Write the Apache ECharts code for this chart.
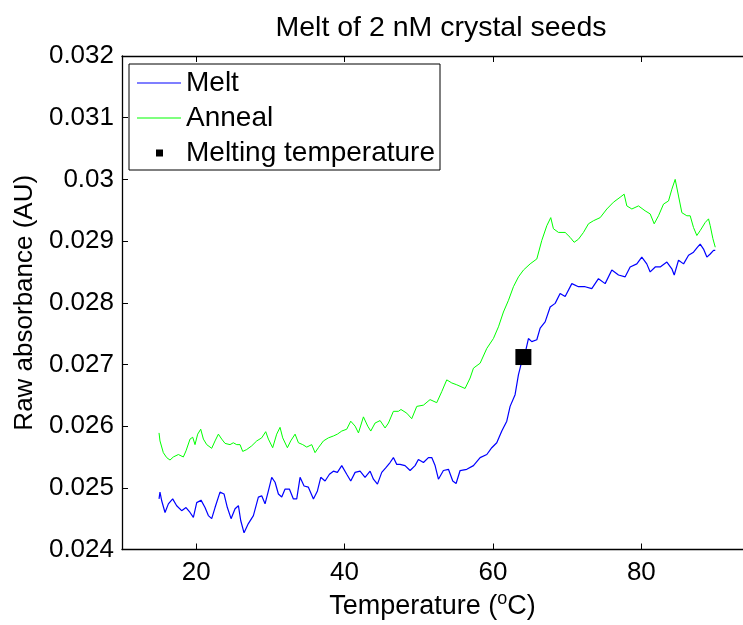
<!DOCTYPE html>
<html>
<head>
<meta charset="utf-8">
<script src="https://cdn.jsdelivr.net/npm/echarts@6/dist/echarts.min.js"></script>
<style>
  html, body { margin: 0; padding: 0; background: #fff; }
  #chart { width: 743px; height: 625px; }
</style>
</head>
<body>
<div id="chart"></div>
<script>
// Melt curve: temperature (°C) and raw absorbance (AU)
const meltTemp = [14.99, 15.12, 15.35, 15.8, 16.25, 16.83, 17.37, 18.04, 18.63, 19.17, 19.62, 20.07, 20.65, 21.19, 21.64, 22.09, 22.54, 23.21, 23.75, 24.2, 24.7, 25.24, 25.69, 26.0, 26.45, 27.03, 27.71, 28.38, 28.83, 29.28, 29.73, 30.18, 30.63, 31.08, 31.53, 31.98, 32.56, 33.1, 33.55, 34.0, 34.54, 35.12, 35.8, 36.34, 36.79, 37.37, 37.96, 38.49, 39.03, 39.62, 40.29, 40.83, 41.42, 42.09, 42.76, 43.44, 43.89, 44.43, 45.01, 45.6, 46.13, 46.58, 47.03, 47.48, 48.15, 48.83, 49.5, 49.95, 50.63, 51.3, 51.75, 52.2, 52.65, 53.32, 54.0, 54.58, 55.03, 55.57, 56.47, 57.37, 58.27, 59.17, 59.84, 60.51, 61.19, 61.86, 62.31, 62.98, 63.43, 63.88, 64.33, 64.78, 65.23, 65.91, 66.36, 67.03, 67.71, 68.38, 69.05, 69.73, 70.63, 71.52, 72.42, 73.32, 74.22, 75.12, 76.02, 76.92, 77.82, 78.49, 79.39, 80.06, 80.73, 81.19, 81.87, 82.54, 83.44, 84.11, 84.43, 85.01, 85.69, 86.36, 87.03, 87.57, 87.93, 88.38, 88.83, 89.28, 89.73, 89.96];
const meltAbs = [0.02482, 0.02493, 0.02479, 0.02460, 0.02474, 0.02482, 0.02471, 0.02463, 0.02468, 0.02460, 0.02452, 0.02476, 0.02480, 0.02468, 0.02455, 0.02450, 0.02468, 0.02493, 0.02490, 0.02468, 0.02450, 0.02466, 0.02471, 0.02447, 0.02427, 0.02442, 0.02455, 0.02485, 0.02487, 0.02474, 0.02495, 0.02517, 0.02509, 0.02490, 0.02485, 0.02498, 0.02498, 0.02482, 0.02482, 0.02517, 0.02503, 0.02501, 0.02482, 0.02495, 0.02517, 0.02511, 0.02522, 0.02527, 0.02525, 0.02536, 0.02522, 0.02511, 0.02525, 0.02527, 0.02517, 0.02527, 0.02514, 0.02506, 0.02525, 0.02533, 0.02541, 0.02549, 0.02538, 0.02538, 0.02536, 0.02528, 0.02536, 0.02546, 0.02541, 0.02549, 0.02549, 0.02536, 0.02514, 0.02528, 0.02530, 0.02511, 0.02507, 0.02528, 0.02530, 0.02536, 0.02549, 0.02554, 0.02565, 0.02573, 0.02592, 0.02608, 0.02632, 0.02651, 0.02683, 0.02705, 0.02718, 0.02742, 0.02737, 0.02740, 0.02759, 0.02769, 0.02793, 0.02799, 0.02815, 0.02810, 0.02831, 0.02826, 0.02826, 0.02823, 0.02839, 0.02831, 0.02853, 0.02845, 0.02842, 0.02858, 0.02863, 0.02874, 0.02863, 0.02850, 0.02858, 0.02858, 0.02866, 0.02855, 0.02845, 0.02869, 0.02863, 0.02877, 0.02882, 0.02890, 0.02895, 0.02887, 0.02874, 0.02879, 0.02885, 0.02885];

// Anneal curve: temperature (°C) and raw absorbance (AU)
const annealTemp = [14.99, 15.12, 15.57, 16.02, 16.47, 16.92, 17.6, 18.27, 18.63, 19.17, 19.53, 19.84, 20.2, 20.61, 20.97, 21.42, 22.09, 22.54, 22.99, 23.44, 23.89, 24.56, 25.0, 25.46, 25.91, 26.27, 26.8, 27.48, 28.16, 28.83, 29.37, 29.73, 30.31, 30.85, 31.3, 31.66, 32.29, 32.74, 33.33, 33.78, 34.36, 34.9, 35.57, 36.02, 36.47, 37.15, 37.82, 38.49, 39.03, 39.62, 40.29, 40.83, 41.42, 41.87, 42.54, 43.12, 43.53, 44.11, 44.79, 45.46, 45.91, 46.58, 47.26, 47.6, 48.38, 49.05, 49.73, 50.63, 51.52, 52.42, 53.1, 53.77, 54.45, 55.12, 56.24, 56.92, 57.37, 58.27, 59.17, 60.06, 60.74, 61.41, 62.09, 62.76, 63.44, 64.11, 65.01, 65.91, 66.58, 67.26, 67.79, 68.15, 68.83, 69.73, 70.4, 70.94, 71.52, 72.2, 72.87, 73.55, 74.45, 75.35, 76.24, 77.14, 77.68, 78.04, 78.72, 79.61, 80.51, 81.19, 81.73, 82.31, 82.99, 83.66, 84.11, 84.56, 85.01, 85.46, 86.13, 86.58, 87.03, 87.48, 87.93, 88.6, 89.05, 89.28, 89.64, 89.96];
const annealAbs = [0.02589, 0.02576, 0.02557, 0.02549, 0.02545, 0.02550, 0.02554, 0.02550, 0.02560, 0.02579, 0.02582, 0.02570, 0.02587, 0.02595, 0.02579, 0.02570, 0.02564, 0.02576, 0.02587, 0.02579, 0.02572, 0.02570, 0.02573, 0.02570, 0.02570, 0.02559, 0.02562, 0.02568, 0.02576, 0.02581, 0.02591, 0.02579, 0.02565, 0.02587, 0.02598, 0.02581, 0.02565, 0.02576, 0.02587, 0.02573, 0.02570, 0.02566, 0.02570, 0.02557, 0.02565, 0.02576, 0.02581, 0.02584, 0.02587, 0.02592, 0.02595, 0.02608, 0.02600, 0.02589, 0.02615, 0.02600, 0.02592, 0.02605, 0.02609, 0.02597, 0.02605, 0.02624, 0.02624, 0.02627, 0.02621, 0.02612, 0.02632, 0.02634, 0.02643, 0.02638, 0.02656, 0.02675, 0.02670, 0.02667, 0.02661, 0.02678, 0.02694, 0.02702, 0.02726, 0.02742, 0.02761, 0.02785, 0.02804, 0.02826, 0.02842, 0.02853, 0.02863, 0.02871, 0.02901, 0.02925, 0.02938, 0.02920, 0.02914, 0.02914, 0.02906, 0.02898, 0.02903, 0.02914, 0.02928, 0.02933, 0.02938, 0.02952, 0.02963, 0.02971, 0.02976, 0.02957, 0.02952, 0.02957, 0.02949, 0.02944, 0.02928, 0.02941, 0.02960, 0.02965, 0.02984, 0.03000, 0.02973, 0.02946, 0.02941, 0.02941, 0.02922, 0.02909, 0.02917, 0.02930, 0.02936, 0.02925, 0.02904, 0.02890];

// Melting temperature point
const tmTemp = [64.1];
const tmAbs = [0.02712];

// Axis ticks
const xTicks = [20, 40, 60, 80];

const FONT = '"Liberation Sans", Arial, Helvetica, sans-serif';

const zip = (xs, ys) => xs.map((x, i) => [x, ys[i]]);

// Legend icons: a thin centred bar for the curves, a small centred square for the point.
// The zero-length corner segments fix the icon's bounding box to the full item size.
const lineIcon = 'path://M0,3 L44,3 L44,4 L0,4 Z M0,0 L0,0 M44,7 L44,7';
const squareIcon = 'path://M19,0 L26,0 L26,7 L19,7 Z M0,0 L0,0 M44,7 L44,7';

const chart = echarts.init(document.getElementById('chart'), null, { renderer: 'canvas' });

chart.setOption({
  animation: false,
  backgroundColor: '#ffffff',
  title: {
    text: 'Melt of 2 nM crystal seeds',
    left: 436,
    textAlign: 'center',
    top: 9,
    textStyle: { fontFamily: FONT, fontSize: 28.5, fontWeight: 'normal', color: '#000' }
  },
  legend: {
    orient: 'vertical',
    left: 129,
    top: 64,
    padding: [5, 5, 3, 8],
    itemWidth: 44,
    itemHeight: 7,
    itemGap: 7,
    borderColor: '#000',
    borderWidth: 1,
    backgroundColor: '#fff',
    textStyle: { fontFamily: FONT, fontSize: 28, color: '#000' },
    data: [
      { name: 'Melt', icon: lineIcon, itemStyle: { color: '#0000ff', opacity: 1 } },
      { name: 'Anneal', icon: lineIcon, itemStyle: { color: '#00ff00', opacity: 1 } },
      { name: 'Melting temperature', icon: squareIcon, itemStyle: { color: '#000', opacity: 1 } }
    ]
  },
  grid: { left: 122, right: 0, top: 56, bottom: 72.5, containLabel: false },
  xAxis: [
    {
      type: 'value',
      min: 10,
      max: 93.7,
      name: 'Temperature ({sup|o}C)',
      nameLocation: 'middle',
      nameGap: 41,
      nameTextStyle: {
        fontFamily: FONT, fontSize: 27, color: '#000',
        rich: { sup: { fontFamily: FONT, fontSize: 18, color: '#000', verticalAlign: 'top', padding: [0, 0, 14, 0] } }
      },
      axisLine: { show: true, onZero: false, lineStyle: { color: '#000', width: 1.3 } },
      axisTick: { show: true, inside: true, length: 6, customValues: xTicks, lineStyle: { color: '#000' } },
      axisLabel: { show: true, customValues: xTicks, margin: 10, fontFamily: FONT, fontSize: 26, color: '#000' },
      splitLine: { show: false }
    },
    {
      type: 'value',
      position: 'top',
      min: 10,
      max: 93.7,
      axisLine: { show: true, onZero: false, lineStyle: { color: '#000', width: 1.3 } },
      axisTick: { show: true, inside: true, length: 6, customValues: xTicks, lineStyle: { color: '#000' } },
      axisLabel: { show: false },
      splitLine: { show: false }
    }
  ],
  yAxis: [
    {
      type: 'value',
      min: 0.024,
      max: 0.032,
      interval: 0.001,
      name: 'Raw absorbance (AU)',
      nameLocation: 'middle',
      nameGap: 84,
      nameTextStyle: { fontFamily: FONT, fontSize: 26, color: '#000' },
      axisLine: { show: true, onZero: false, lineStyle: { color: '#000', width: 1.3 } },
      axisTick: { show: true, inside: true, length: 6, lineStyle: { color: '#000' } },
      axisLabel: {
        margin: 8, fontFamily: FONT, fontSize: 26, color: '#000',
        formatter: v => String(+v.toFixed(3))
      },
      splitLine: { show: false }
    }
  ],
  series: [
    {
      name: 'Melt',
      type: 'line',
      data: zip(meltTemp, meltAbs),
      symbol: 'none',
      lineStyle: { color: '#0000ff', width: 1.2 },
      itemStyle: { color: '#0000ff' },
      z: 3
    },
    {
      name: 'Anneal',
      type: 'line',
      data: zip(annealTemp, annealAbs),
      symbol: 'none',
      lineStyle: { color: '#00ff00', width: 1 },
      itemStyle: { color: '#00ff00' },
      z: 2
    },
    {
      name: 'Melting temperature',
      type: 'scatter',
      data: zip(tmTemp, tmAbs),
      symbol: 'rect',
      symbolSize: 16,
      itemStyle: { color: '#000', opacity: 1 },
      z: 4
    }
  ]
});
</script>
</body>
</html>
